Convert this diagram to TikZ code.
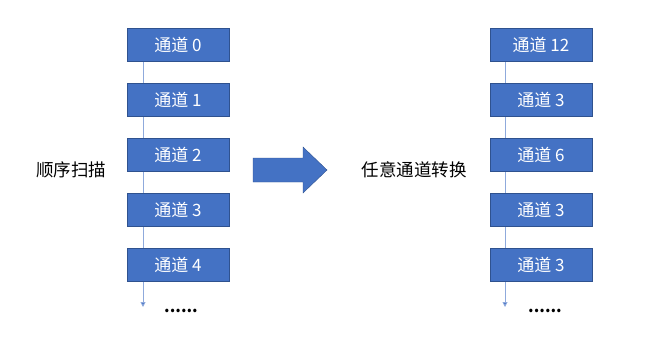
\documentclass[tikz,border=0pt]{standalone}
\usepackage{fontspec}
\setmainfont{Noto Sans CJK SC}
\usetikzlibrary{arrows.meta}
\definecolor{boxblue}{HTML}{4472C4}
\definecolor{boxedge}{HTML}{2F528F}
\definecolor{lineblue}{HTML}{8FAADC}
\tikzset{
  chan/.style={draw=boxedge,fill=boxblue,text=white,minimum width=102pt,minimum height=33pt,inner sep=0pt,font=\fontsize{17}{20}\selectfont},
  scan/.style={lineblue,line width=0.9pt,-{Triangle[length=5pt,width=5pt,fill=boxblue]}},
  dots/.style={font=\bfseries\fontsize{16}{18}\selectfont},
}
\begin{document}
\begin{tikzpicture}[x=1pt,y=-1pt]
            \useasboundingbox (0,0) rectangle (652,343);
            \coordinate (ltop) at (143,61);
            \coordinate (lend) at (143,307);
            \coordinate (rtop) at (505,61);
            \coordinate (rend) at (505,307);
            \draw[scan] (ltop) -- (lend);
            \draw[scan] (rtop) -- (rend);
            \foreach \i/\a/\b in {0/0/12,1/1/3,2/2/6,3/3/3,4/4/3} {
              \node[chan] (l\i) at (178,44.5+55*\i) {通道 \a};
              \node[chan] (r\i) at (541,44.5+55*\i) {通道 \b};
            }
            \node[dots] (ldots) at (181,311) {......};
            \node[dots] (rdots) at (545,311) {......};
            \node[font=\fontsize{17.5}{20}\selectfont] (scanlabel) at (71,170) {顺序扫描};
            \node[font=\fontsize{17.5}{20}\selectfont] (anylabel) at (414,170) {任意通道转换};
            % big arrow
            \draw[boxedge,fill=boxblue] (253,158) -- (303,158) -- (303,147) -- (327,170)
              -- (303,193) -- (303,182) -- (253,182) -- cycle;
          \end{tikzpicture}
\end{document}
